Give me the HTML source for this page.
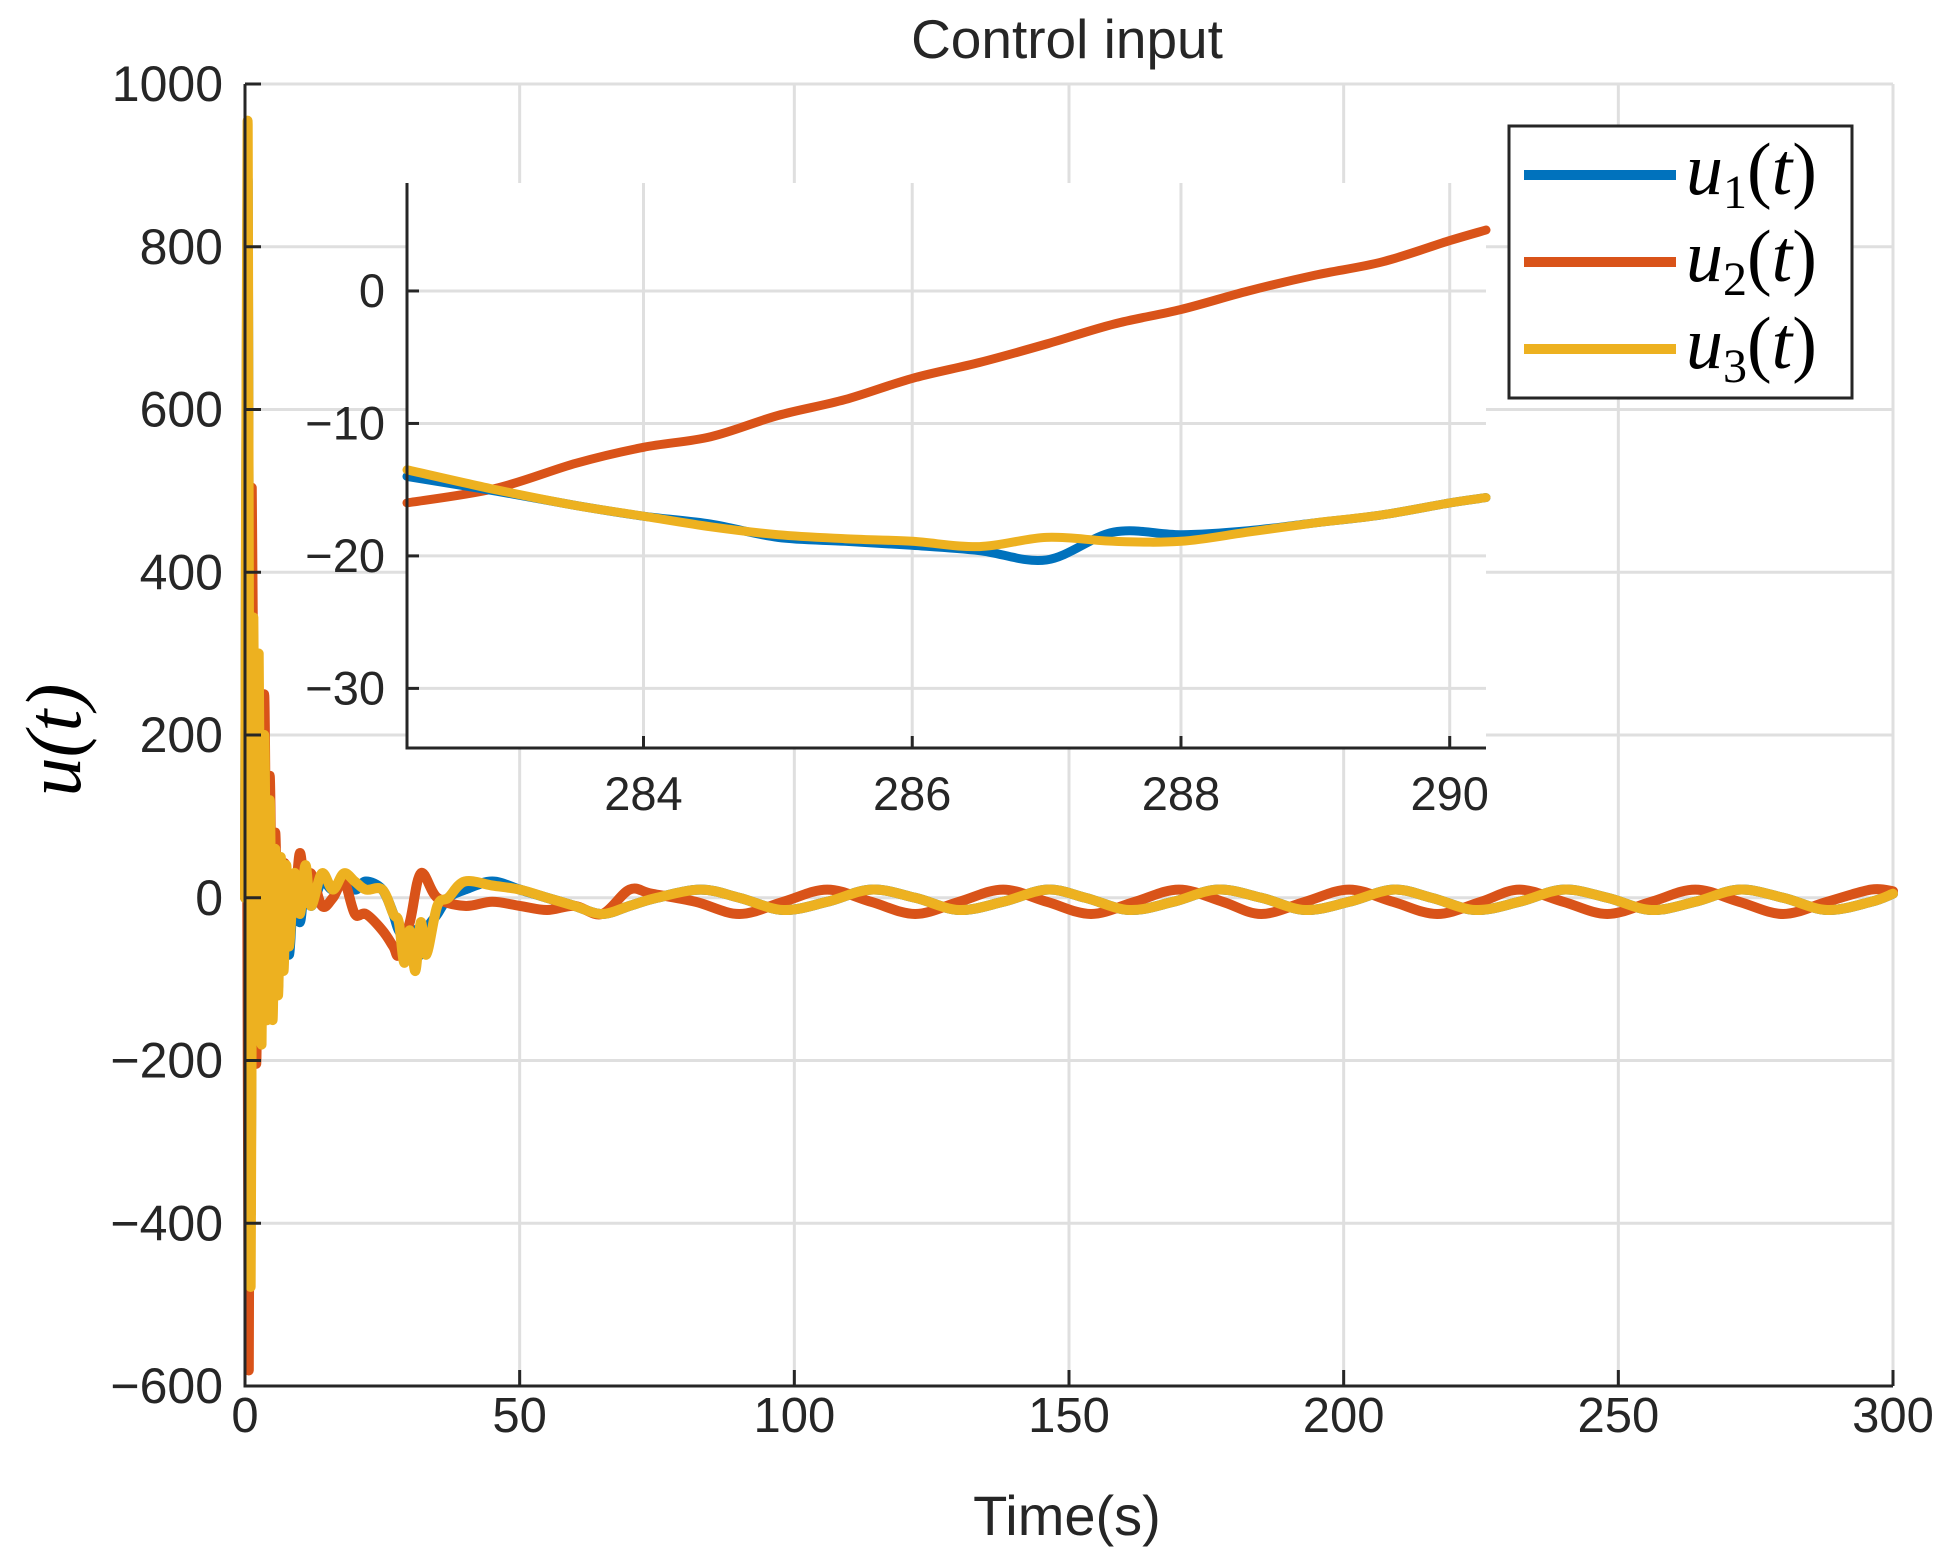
<!DOCTYPE html>
<html><head><meta charset="utf-8"><style>
html,body{margin:0;padding:0;background:#fff}
svg{display:block}
text{font-family:"Liberation Sans",sans-serif;fill:#262626}
.math{font-family:"Liberation Serif",serif;font-style:italic;fill:#000}
</style></head><body>
<svg id="chart" width="1941" height="1566" viewBox="0 0 1941 1566" xmlns="http://www.w3.org/2000/svg">
<rect x="0" y="0" width="1941" height="1566" fill="#fff"/>
<g id="main"></g>
<g id="inset"></g>
<text x="1067" y="58" font-size="55" text-anchor="middle" fill="#000">Control input</text>
<text x="1067" y="1535" font-size="56" text-anchor="middle">Time(s)</text>
<text class="math" transform="translate(80,740) rotate(-90)" font-size="78" text-anchor="middle">u(t)</text>
<g>
<rect x="1509" y="126" width="343" height="272" fill="#fff" stroke="#262626" stroke-width="3"/>
<line x1="1524" y1="175" x2="1676" y2="175" stroke="#0072BD" stroke-width="10"/>
<line x1="1524" y1="262" x2="1676" y2="262" stroke="#D95319" stroke-width="10"/>
<line x1="1524" y1="349" x2="1676" y2="349" stroke="#EDB120" stroke-width="10"/>
<text class="math" x="1686" y="194" font-size="74">u<tspan font-style="normal" font-size="48" dy="14">1</tspan><tspan font-style="normal" dy="-14">(</tspan>t<tspan font-style="normal">)</tspan></text>
<text class="math" x="1686" y="281" font-size="74">u<tspan font-style="normal" font-size="48" dy="14">2</tspan><tspan font-style="normal" dy="-14">(</tspan>t<tspan font-style="normal">)</tspan></text>
<text class="math" x="1686" y="368" font-size="74">u<tspan font-style="normal" font-size="48" dy="14">3</tspan><tspan font-style="normal" dy="-14">(</tspan>t<tspan font-style="normal">)</tspan></text>
</g>
</svg>
<script>
const NS='http://www.w3.org/2000/svg';
const xTicks=[0,50,100,150,200,250,300];
const yTicks=[-600,-400,-200,0,200,400,600,800,1000];
const yTickLabels=['\u2212600','\u2212400','\u2212200','0','200','400','600','800','1000'];
const u1T=[0,0.5,1,1.5,2,2.5,3,3.5,4,4.5,5,5.5,6,6.5,7,7.5,8,9,10,11,12,14,16,18,20,22,25,27,28,30,31,32,33,35,37,40,45,50,55,60,65,70,75,83,90,98,106,114,122,130,138,146,153,161,169,177,185,193,201,209,216,224,232,240,248,256,264,272,280,288,296,300];
const u1V=[0,880,-380,280,-100,240,-140,160,-120,100,-130,60,-110,40,-80,30,-70,20,-30,30,-10,20,10,25,10,20,10,-20,-40,-60,-40,-70,-40,-20,0,10,20,10,0,-10,-20,-10,0,10,0,-15,-5,10,0,-15,-5,10,0,-15,-5,10,0,-15,-5,10,0,-15,-5,10,0,-15,-5,10,0,-15,-5,5];
const u2T=[0,0.3,0.7,1.2,2,2.5,3,3.5,4,4.5,5,5.5,6,7,8,9,10,11,12,14,16,18,20,22,25,27,28,30,32,35,40,45,50,55,60,65,70,74,82,90,98,106,114,122,130,138,146,154,162,170,178,185,193,201,209,217,225,232,240,248,256,264,272,280,288,296,300];
const u2V=[0,300,-580,500,-200,200,-50,250,-60,150,-60,80,-40,40,20,-10,55,0,30,-10,0,20,-20,-20,-40,-60,-70,-30,30,0,-10,-5,-10,-15,-10,-20,10,5,-5,-20,-5,10,-5,-20,-5,10,-5,-20,-5,10,-5,-20,-5,10,-5,-20,-5,10,-5,-20,-5,10,-5,-20,-5,10,8];
const u3T=[0,0.5,1,1.5,2,2.5,3,3.5,4,4.5,5,5.5,6,6.5,7,7.5,8,9,10,11,12,14,16,18,20,22,25,27,28,29,30,31,32,33,35,37,40,45,50,55,60,65,70,75,83,90,98,106,114,122,130,138,146,153,161,169,177,185,193,201,209,216,224,232,240,248,256,264,272,280,288,296,300];
const u3V=[0,950,-470,340,-120,300,-180,200,-150,120,-150,60,-120,50,-90,40,-60,30,-20,40,-10,30,10,30,20,10,10,-20,-30,-80,-40,-90,-30,-70,-10,0,20,15,10,0,-10,-20,-10,0,10,0,-15,-5,10,0,-15,-5,10,0,-15,-5,10,0,-15,-5,10,0,-15,-5,10,0,-15,-5,10,0,-15,-5,5];
const ixTicks=[284,286,288,290];
const iyTicks=[-30,-20,-10,0];
const iyTickLabels=['\u221230','\u221220','\u221210','0'];
const i1T=[282.24,282.9,283.5,284,284.5,285,285.5,286,286.5,287,287.5,288,288.5,289,289.5,290,290.27];
const i1V=[-14,-15.1,-16.2,-17,-17.6,-18.6,-18.9,-19.2,-19.6,-20.3,-18.2,-18.4,-18.1,-17.5,-16.9,-16,-15.6];
const i2T=[282.24,282.9,283.5,284,284.5,285,285.5,286,286.5,287,287.5,288,288.5,289,289.5,290,290.27];
const i2V=[-16,-14.9,-13,-11.8,-11,-9.4,-8.2,-6.6,-5.4,-4,-2.5,-1.4,0,1.2,2.2,3.8,4.6];
const i3T=[282.24,282.9,283.5,284,284.5,285,285.5,286,286.5,287,287.5,288,288.5,289,289.5,290,290.27];
const i3V=[-13.5,-15,-16.2,-17,-17.8,-18.4,-18.7,-18.9,-19.3,-18.6,-18.9,-18.9,-18.2,-17.5,-16.9,-16,-15.6];

function el(p,tag,attrs){const e=document.createElementNS(NS,tag);for(const k in attrs)e.setAttribute(k,attrs[k]);p.appendChild(e);return e;}
function smoothPath(T,V,sx,sy){
  const P=T.map((t,i)=>[sx(t),sy(V[i])]);
  let d='M'+P[0][0].toFixed(1)+','+P[0][1].toFixed(1);
  for(let i=0;i<P.length-1;i++){
    const p0=P[Math.max(0,i-1)],p1=P[i],p2=P[i+1],p3=P[Math.min(P.length-1,i+2)];
    const c1=[p1[0]+(p2[0]-p0[0])/6,p1[1]+(p2[1]-p0[1])/6];
    const c2=[p2[0]-(p3[0]-p1[0])/6,p2[1]-(p3[1]-p1[1])/6];
    c1[0]=Math.min(Math.max(c1[0],p1[0]),p2[0]);c2[0]=Math.min(Math.max(c2[0],p1[0]),p2[0]);
    d+='C'+c1[0].toFixed(1)+','+c1[1].toFixed(1)+' '+c2[0].toFixed(1)+','+c2[1].toFixed(1)+' '+p2[0].toFixed(1)+','+p2[1].toFixed(1);
  }
  return d;
}

// main axes
const M={x0:245,x1:1893,y0:84,y1:1386};
const mx=v=>M.x0+(v-0)/300*(M.x1-M.x0);
const my=v=>M.y1-(v+600)/1600*(M.y1-M.y0);
const g=document.getElementById('main');
for(const t of xTicks){const l=el(g,'line',{x1:mx(t),x2:mx(t),y1:M.y0,y2:M.y1,stroke:'#dfdfdf','stroke-width':3});

}
for(const t of yTicks){const l=el(g,'line',{x1:M.x0,x2:M.x1,y1:my(t),y2:my(t),stroke:'#dfdfdf','stroke-width':3});

}
const series=[[u1T,u1V,'#0072BD','series-u1'],[u2T,u2V,'#D95319','series-u2'],[u3T,u3V,'#EDB120','series-u3']];
for(const s of series){const p=el(g,'path',{d:smoothPath(s[0],s[1],mx,my),fill:'none',stroke:s[2],'stroke-width':10,'stroke-linejoin':'round','stroke-linecap':'round'});

}
el(g,'path',{d:`M${M.x0},${M.y0}V${M.y1}H${M.x1}`,fill:'none',stroke:'#262626','stroke-width':3});
xTicks.forEach(t=>{el(g,'line',{x1:mx(t),x2:mx(t),y1:M.y1,y2:M.y1-16,stroke:'#262626','stroke-width':3});
const tx=el(g,'text',{x:mx(t),y:M.y1+46,'font-size':49,'text-anchor':'middle'});tx.textContent=t;

});
yTicks.forEach((t,i)=>{el(g,'line',{x1:M.x0,x2:M.x0+16,y1:my(t),y2:my(t),stroke:'#262626','stroke-width':3});
const tx=el(g,'text',{x:M.x0-22,y:my(t)+17,'font-size':50,'text-anchor':'end'});tx.textContent=yTickLabels[i];

});

// inset
const I={x0:407,x1:1486,y0:183,y1:748,xmin:282.24,xmax:290.27,ymin:-34.5,ymax:8.15};
const ix=v=>I.x0+(v-I.xmin)/(I.xmax-I.xmin)*(I.x1-I.x0);
const iy=v=>I.y1-(v-I.ymin)/(I.ymax-I.ymin)*(I.y1-I.y0);
const h=document.getElementById('inset');


el(h,'rect',{x:I.x0,y:I.y0,width:I.x1-I.x0,height:I.y1-I.y0,fill:'#fff'});
for(const t of ixTicks){const l=el(h,'line',{x1:ix(t),x2:ix(t),y1:I.y0,y2:I.y1,stroke:'#dfdfdf','stroke-width':3});

}
for(const t of iyTicks){const l=el(h,'line',{x1:I.x0,x2:I.x1,y1:iy(t),y2:iy(t),stroke:'#dfdfdf','stroke-width':3});

}
const iser=[[i2T,i2V,'#D95319','inset-series-u2'],[i1T,i1V,'#0072BD','inset-series-u1'],[i3T,i3V,'#EDB120','inset-series-u3']];
for(const s of iser){const p=el(h,'path',{d:smoothPath(s[0],s[1],ix,iy),fill:'none',stroke:s[2],'stroke-width':9,'stroke-linejoin':'round','stroke-linecap':'round'});

}
el(h,'path',{d:`M${I.x0},${I.y0}V${I.y1}H${I.x1}`,fill:'none',stroke:'#262626','stroke-width':3});
ixTicks.forEach(t=>{el(h,'line',{x1:ix(t),x2:ix(t),y1:I.y1,y2:I.y1-12,stroke:'#262626','stroke-width':3});
const tx=el(h,'text',{x:ix(t),y:I.y1+62,'font-size':47,'text-anchor':'middle'});tx.textContent=t;

});
iyTicks.forEach((t,i)=>{el(h,'line',{x1:I.x0,x2:I.x0+12,y1:iy(t),y2:iy(t),stroke:'#262626','stroke-width':3});
const tx=el(h,'text',{x:I.x0-22,y:iy(t)+16,'font-size':47,'text-anchor':'end'});tx.textContent=iyTickLabels[i];

});
</script>
</body></html>
